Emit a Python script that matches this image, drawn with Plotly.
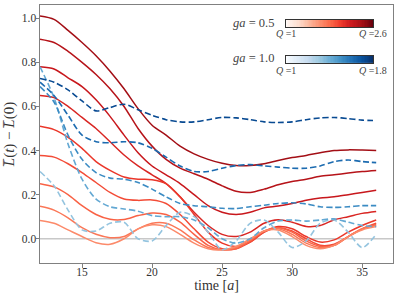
import numpy as np
import plotly.graph_objects as go
from plotly.colors import sample_colorscale

t = list(range(12, 37))

# ga = 0.5, Q = 1.0 ... 2.6 (solid, Reds)
Q_red = [1.0, 1.2, 1.4, 1.6, 1.8, 2.0, 2.2, 2.4, 2.6]
red_series = [
    [0.083, 0.07, 0.04, 0.01, -0.018, -0.025, 0.0, 0.045, 0.063, 0.055, 0.02, -0.02, -0.045, -0.05, -0.035, 0.0, 0.035, 0.04, 0.01, -0.03, -0.045, -0.03, 0.01, 0.04, 0.055],
    [0.147, 0.13, 0.095, 0.05, 0.02, 0.005, 0.01, 0.045, 0.07, 0.07, 0.04, -0.005, -0.04, -0.05, -0.04, -0.005, 0.035, 0.045, 0.02, -0.02, -0.04, -0.03, 0.01, 0.045, 0.06],
    [0.25, 0.235, 0.20, 0.15, 0.11, 0.088, 0.087, 0.105, 0.117, 0.11, 0.075, 0.02, -0.03, -0.05, -0.045, -0.01, 0.035, 0.05, 0.03, -0.01, -0.035, -0.03, 0.01, 0.045, 0.065],
    [0.377, 0.37, 0.34, 0.30, 0.255, 0.21, 0.18, 0.174, 0.176, 0.16, 0.11, 0.045, -0.015, -0.045, -0.045, -0.015, 0.03, 0.05, 0.035, 0.0, -0.03, -0.025, 0.01, 0.045, 0.07],
    [0.51, 0.495, 0.46, 0.41, 0.35, 0.31, 0.28, 0.27, 0.268, 0.25, 0.19, 0.11, 0.03, -0.02, -0.035, -0.015, 0.03, 0.055, 0.045, 0.01, -0.015, -0.005, 0.03, 0.06, 0.085],
    [0.65, 0.64, 0.60, 0.55, 0.50, 0.44, 0.38, 0.33, 0.29, 0.25, 0.19, 0.12, 0.06, 0.02, 0.01, 0.03, 0.07, 0.086, 0.075, 0.056, 0.06, 0.086, 0.10, 0.115, 0.124],
    [0.78, 0.77, 0.73, 0.69, 0.63, 0.555, 0.47, 0.39, 0.33, 0.29, 0.25, 0.20, 0.15, 0.12, 0.11, 0.12, 0.14, 0.148, 0.16, 0.175, 0.185, 0.19, 0.20, 0.21, 0.22],
    [0.905, 0.89, 0.85, 0.80, 0.745, 0.68, 0.60, 0.50, 0.42, 0.36, 0.32, 0.295, 0.27, 0.24, 0.215, 0.21, 0.225, 0.245, 0.26, 0.27, 0.283, 0.29, 0.298, 0.305, 0.31],
    [1.01, 0.995, 0.945, 0.89, 0.83, 0.76, 0.68, 0.59, 0.515, 0.47, 0.42, 0.385, 0.36, 0.342, 0.332, 0.332, 0.34, 0.355, 0.368, 0.378, 0.39, 0.40, 0.403, 0.402, 0.40],
]

# ga = 1.0, Q = 1.0 ... 1.8 (dashed, Blues)
Q_blue = [1.0, 1.2, 1.4, 1.6, 1.8]
blue_series = [
    [0.305, 0.24, 0.13, 0.04, 0.035, 0.07, 0.075, 0.0, -0.01, 0.06, 0.12, 0.10, 0.03, -0.05, -0.01, 0.07, 0.085, 0.03, -0.04, -0.01, 0.07, 0.085, 0.03, -0.04, 0.02],
    [0.78, 0.64, 0.43, 0.27, 0.18, 0.145, 0.135, 0.125, 0.105, 0.10, 0.10, 0.085, 0.05, 0.0, -0.02, 0.0, 0.05, 0.08, 0.085, 0.08, 0.085, 0.09, 0.075, 0.06, 0.055],
    [0.69, 0.62, 0.47, 0.36, 0.30, 0.275, 0.27, 0.255, 0.225, 0.19, 0.16, 0.15, 0.145, 0.138, 0.137, 0.145, 0.152, 0.16, 0.163, 0.158, 0.145, 0.142, 0.145, 0.15, 0.15],
    [0.71, 0.65, 0.56, 0.47, 0.44, 0.435, 0.44, 0.435, 0.41, 0.37, 0.33, 0.305, 0.305, 0.32, 0.332, 0.336, 0.33, 0.325, 0.32, 0.32, 0.33, 0.35, 0.357, 0.35, 0.345],
    [0.727, 0.71, 0.675, 0.625, 0.58, 0.595, 0.61, 0.585, 0.56, 0.54, 0.53, 0.53, 0.54, 0.55, 0.548, 0.54, 0.53, 0.527, 0.53, 0.54, 0.548, 0.55, 0.545, 0.538, 0.536],
]

x_ticks = [15, 20, 25, 30, 35]
y_ticks = [0.0, 0.2, 0.4, 0.6, 0.8, 1.0]

red_cols = sample_colorscale('Reds', list(np.linspace(0.4, 0.88, len(Q_red))))
blue_cols = sample_colorscale('Blues', list(np.linspace(0.4, 0.9, len(Q_blue))))

FONT = "Liberation Serif"
fig = go.Figure()

fig.add_hline(y=0, line=dict(color='#c8c8c8', width=1.5), layer='below')

for i in range(len(Q_red) - 1, -1, -1):
    fig.add_trace(go.Scatter(x=t, y=red_series[i], mode='lines',
                             line=dict(color=red_cols[i], width=1.5, shape='spline', smoothing=0.8),
                             showlegend=False, hoverinfo='skip'))
for i in range(len(Q_blue)):
    fig.add_trace(go.Scatter(x=t, y=blue_series[i], mode='lines',
                             line=dict(color=blue_cols[i], width=1.6, dash='6px,3px', shape='spline', smoothing=0.8),
                             showlegend=False, hoverinfo='skip'))

# legend colour ramps
ramp = [list(np.linspace(0, 1, 64))]
fig.add_trace(go.Heatmap(z=ramp, colorscale='Reds', showscale=False, xaxis='x2', yaxis='y2', hoverinfo='skip'))
fig.add_trace(go.Heatmap(z=ramp, colorscale='Blues', showscale=False, xaxis='x3', yaxis='y3', hoverinfo='skip'))

W, H = 397, 299
def px_x(p): return p / W
def px_y(p): return 1 - p / H

axis_small = dict(showticklabels=False, ticks='', showgrid=False, zeroline=False,
                  showline=True, linecolor='#333333', linewidth=1, mirror=True)
fig.update_layout(
    xaxis2=dict(domain=[px_x(277), px_x(375)], anchor='y2', **axis_small),
    yaxis2=dict(domain=[px_y(26), px_y(17)], anchor='x2', **axis_small),
    xaxis3=dict(domain=[px_x(277), px_x(375)], anchor='y3', **axis_small),
    yaxis3=dict(domain=[px_y(67.5), px_y(59)], anchor='x3', **axis_small),
)

ann = []
def txt(x, y, s, size=10, xanchor='center'):
    ann.append(dict(x=px_x(x), y=px_y(y), xref='paper', yref='paper', text=s, showarrow=False,
                    xanchor=xanchor, yanchor='middle', font=dict(family=FONT, size=size, color='#444444')))
txt(265, 21, '<i>ga</i> = 0.5', 12.5, 'right')
txt(265, 62, '<i>ga</i> = 1.0', 12.5, 'right')
txt(277, 33, '<i>Q</i> =1', 10)
txt(375, 33, '<i>Q</i> =2.6', 10)
txt(277, 76, '<i>Q</i> =1', 10)
txt(375, 76, '<i>Q</i> =1.8', 10)

fig.update_layout(
    width=W, height=H,
    margin=dict(l=40, r=4, t=5, b=36),
    paper_bgcolor='white', plot_bgcolor='white',
    annotations=ann,
    xaxis=dict(range=[12, 37.2], tickvals=x_ticks, ticktext=[str(v) for v in x_ticks],
               showgrid=False, zeroline=False, showline=True, mirror=True,
               linecolor='#808080', linewidth=1, ticks='outside', ticklen=3.5, tickcolor='#808080',
               ticklabelstandoff=-5,
               tickfont=dict(family=FONT, size=11.5, color='#333333'),
               title=dict(text='time [<i>a</i>]', font=dict(family=FONT, size=14, color='#333333'), standoff=0)),
    yaxis=dict(range=[-0.11, 1.06], tickvals=y_ticks, ticktext=['%.1f' % v for v in y_ticks],
               showgrid=False, zeroline=False, showline=True, mirror=True,
               linecolor='#808080', linewidth=1, ticks='outside', ticklen=3.5, tickcolor='#808080',
               ticklabelstandoff=-3,
               tickfont=dict(family=FONT, size=11.5, color='#333333'),
               title=dict(text='<i>L\u0305</i>(<i>t</i>) \u2212 <i>L\u0305</i>(0)', font=dict(family=FONT, size=15, color='#333333'), standoff=3)),
)

fig.write_html("out.html", config={'displayModeBar': False},
               post_script="document.body.style.margin='0';document.body.style.overflow='hidden';")
